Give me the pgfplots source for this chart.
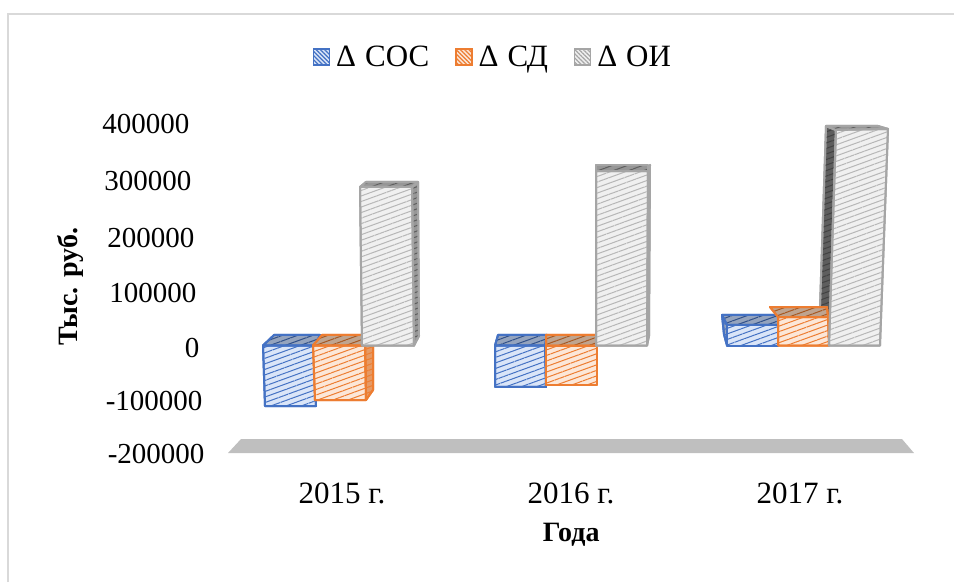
\documentclass[border=0pt]{standalone}
\usepackage{fontspec}
\setmainfont{Liberation Serif}
\usepackage{pgfplots}
\pgfplotsset{compat=1.18}
\usetikzlibrary{patterns.meta}

\definecolor{cosline}{HTML}{4472C4}
\definecolor{cosface}{HTML}{DAE5F8}
\definecolor{costop}{HTML}{94A3BD}
\definecolor{sdline}{HTML}{ED7D31}
\definecolor{sdface}{HTML}{FCE7D8}
\definecolor{sdtop}{HTML}{BFA48F}
\definecolor{sdside}{HTML}{E59A66}
\definecolor{oiline}{HTML}{A5A5A5}
\definecolor{oiface}{HTML}{F0F0F0}
\definecolor{oitop}{HTML}{969696}
\definecolor{oiside}{HTML}{5E5E5E}
\definecolor{floorgrey}{HTML}{BFBFBF}
\definecolor{framegrey}{HTML}{D9D9D9}

% hatched face of a box: outline colour, base fill, stripe colour
\tikzset{
  face/.style n args={3}{draw=#1, line width=2pt, line join=round, fill=#2,
    postaction={pattern={Lines[angle=20,distance=5.2pt,line width=1pt]},pattern color=#3}},
  swatch/.style n args={3}{draw=#1, line width=1.4pt, fill=#2,
    postaction={pattern={Lines[angle=-45,distance=3pt,line width=1.2pt]},pattern color=#3}}
}

% tick label following the slanted wall: right-end shift, drop, text
\newcommand\tl[3]{\smash{\raisebox{\dimexpr-9.8pt-#2pt\relax}{\makebox[0pt][r]{#3\kern\dimexpr-#1pt\relax}}}}

\begin{document}
\begin{tikzpicture}[x=1pt,y=1pt]
\useasboundingbox (0,0) rectangle (954,582);
\draw[framegrey, line width=2pt] (8,0) -- (8,567.5) -- (954,567.5);
\begin{axis}[
  at={(200pt,112pt)}, anchor=south west,
  scale only axis, width=725pt, height=370pt,
  xmin=200, xmax=925, ymin=-225100, ymax=443900,
  clip=false,
  axis line style={draw=none}, tick style={draw=none},
  xtick={342,571,800}, xticklabels={2015 г.,2016 г.,2017 г.},
  ytick={-200000,-100000,0,100000,200000,300000,400000},
  yticklabels={\tl{11}{-2}{-200000},\tl{9}{0}{-100000},\tl{6}{2}{0},\tl{3}{2.5}{100000},\tl{1}{2.5}{200000},\tl{-2}{1}{300000},\tl{-4}{-1}{400000}},
  scaled y ticks=false,
  yticklabel style={xshift=-3pt,font=\fontsize{29}{35}\selectfont},
  xticklabel style={yshift=-9pt,font=\fontsize{31}{37}\selectfont},
  xlabel={\textbf{Года}}, ylabel={\textbf{Тыс. руб.}},
  every axis x label/.style={at={(rel axis cs:0.512,-0.176)},anchor=center,font=\fontsize{28}{33}\selectfont},
  every axis y label/.style={at={(rel axis cs:-0.179,0.495)},anchor=center,rotate=90,font=\fontsize{28}{33}\selectfont},
  legend columns=3,
  legend style={at={(rel axis cs:0.404,1.116)},anchor=center,draw=none,fill=none,
    font=\fontsize{31}{37}\selectfont, inner sep=0pt,
    /tikz/every odd column/.style={column sep=4pt},
    /tikz/every even column/.style={column sep=24pt}},
  legend image code/.code={\path[#1] (0pt,-8pt) rectangle (16pt,8pt);},
]
\addlegendimage{swatch={cosline}{cosface}{cosline}}
\addlegendentry{Δ\kern9ptСОС}
\addlegendimage{swatch={sdline}{sdface}{sdline}}
\addlegendentry{Δ\kern9ptСД}
\addlegendimage{swatch={oiline}{oiface}{oiline}}
\addlegendentry{Δ\kern9ptОИ}

% floor of the chart
\addplot[fill=floorgrey, draw=none, forget plot] coordinates {(228,-194400)(241,-169100)(902,-169100)(914,-194400)} -- cycle;

% 2015
\addplot[face={cosline}{costop}{cosline!70!black}, forget plot] coordinates {(263,0)(315,0)(320,19000)(274,19000)} -- cycle;
\addplot[face={cosline}{cosface}{cosline}, forget plot] coordinates {(263,0)(315,0)(316,-109400)(265,-109400)} -- cycle;
\addplot[face={sdline}{sdside}{sdline}, forget plot] coordinates {(365,0)(373,0)(373,-80500)(366,-98600)} -- cycle;
\addplot[face={sdline}{sdtop}{sdline!70!black}, forget plot] coordinates {(313,0)(365,0)(372,19000)(322,19000)} -- cycle;
\addplot[face={sdline}{sdface}{sdline}, forget plot] coordinates {(313,0)(365,0)(366,-98600)(315,-98600)} -- cycle;
\addplot[face={oiline}{oitop}{oiside}, forget plot] coordinates {(412,286600)(418,295700)(419,17200)(414,0)} -- cycle;
\addplot[face={oiline}{oitop}{oiside}, forget plot] coordinates {(360,286600)(412,286600)(418,295700)(366,295700)} -- cycle;
\addplot[face={oiline}{oiface}{oiline!80!white}, forget plot] coordinates {(360,286600)(412,286600)(414,0)(362,0)} -- cycle;

% 2016
\addplot[face={cosline}{costop}{cosline!70!black}, forget plot] coordinates {(495,0)(545,0)(547,19000)(498,19000)} -- cycle;
\addplot[face={cosline}{cosface}{cosline}, forget plot] coordinates {(495,0)(545,0)(546,-75000)(495,-75000)} -- cycle;
\addplot[face={sdline}{sdtop}{sdline!70!black}, forget plot] coordinates {(546,0)(597,0)(596,19000)(546,19000)} -- cycle;
\addplot[face={sdline}{sdface}{sdline}, forget plot] coordinates {(546,0)(597,0)(597,-71400)(546,-71400)} -- cycle;
\addplot[face={oiline}{oitop}{oiside}, forget plot] coordinates {(648,315500)(650,326400)(649,17200)(647,0)} -- cycle;
\addplot[face={oiline}{oitop}{oiside}, forget plot] coordinates {(596,315500)(648,315500)(648,326400)(596,326400)} -- cycle;
\addplot[face={oiline}{oiface}{oiline!80!white}, forget plot] coordinates {(596,315500)(648,315500)(647,0)(596,0)} -- cycle;

% 2017
\addplot[face={oiline}{oiside}{oiside!70!black}, forget plot] coordinates {(826,396900)(836,389700)(829,0)(820,69600)} -- cycle;
\addplot[face={cosline}{costop}{cosline}, forget plot] coordinates {(722,55200)(727,37100)(727,0)(724,20000)} -- cycle;
\addplot[face={cosline}{costop}{cosline!70!black}, forget plot] coordinates {(722,55200)(778,55200)(778,37100)(727,37100)} -- cycle;
\addplot[face={cosline}{cosface}{cosline}, forget plot] coordinates {(727,0)(778,0)(778,37100)(727,37100)} -- cycle;
\addplot[face={sdline}{sdtop}{sdline!70!black}, forget plot] coordinates {(770,69600)(827,69600)(828,51500)(778,51500)} -- cycle;
\addplot[face={sdline}{sdface}{sdline}, forget plot] coordinates {(778,0)(829,0)(828,51500)(778,51500)} -- cycle;
\addplot[face={oiline}{oitop}{oiside}, forget plot] coordinates {(826,396900)(878,396900)(888,391500)(836,389700)} -- cycle;
\addplot[face={oiline}{oiface}{oiline!80!white}, forget plot] coordinates {(836,389700)(888,391500)(880,0)(829,0)} -- cycle;
\end{axis}
\end{tikzpicture}
\end{document}
